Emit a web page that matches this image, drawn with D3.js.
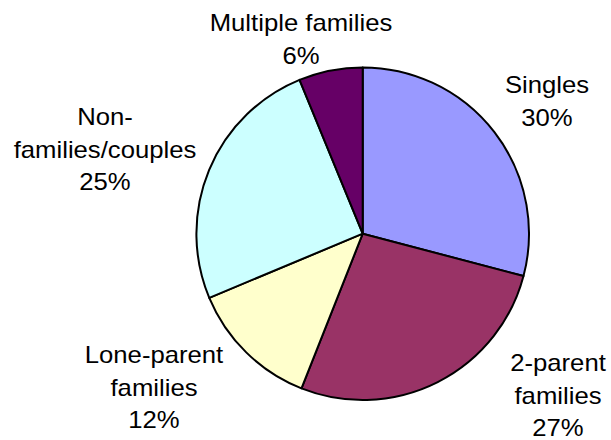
<!DOCTYPE html>
<html>
<head>
<meta charset="utf-8">
<script src="https://cdn.jsdelivr.net/npm/d3@7"></script>
<style>
  body { margin: 0; background: #fff; }
  svg { display: block; }
  .label text { font-family: "Liberation Sans", Arial, sans-serif; font-size: 24px; fill: #000; }
</style>
</head>
<body>
<div id="chart"></div>
<script>
// household types, share of total
var categories = ["Singles", "2-parent families", "Lone-parent families", "Non-families/couples", "Multiple families"];
var values = [29.1, 26.9, 12.7, 25.1, 6.2];
var pctLabels = ["30%", "27%", "12%", "25%", "6%"];
// label text broken into lines as in the original
var labelLines = [["Singles"], ["2-parent", "families"], ["Lone-parent", "families"], ["Non-", "families/couples"], ["Multiple families"]];
var colors = ["#9999ff", "#993366", "#ffffcc", "#ccffff", "#660066"];

var width = 611, height = 440,
	cx = 362.7, cy = 233.7, radius = 166.3,
	lineH = 32.7;

// where each label block sits (centre x, first baseline)
var labelAt = [[547, 93], [558, 371], [154, 363], [105, 125], [301, 31]];

var svg = d3.select("#chart").append("svg")
	.attr("width", width)
	.attr("height", height);

var pie = d3.pie().sort(null).value(function(d) { return d; });
var arc = d3.arc().innerRadius(0).outerRadius(radius);

var g = svg.append("g")
	.attr("transform", "translate(" + cx + "," + cy + ")");

g.selectAll("path")
	.data(pie(values))
  .enter().append("path")
	.attr("d", arc)
	.attr("fill", function(d, i) { return colors[i]; })
	.attr("stroke", "#000")
	.attr("stroke-width", 2)
	.attr("stroke-linejoin", "round");

// text in the original is a bit wider than Liberation Sans, so stretch it slightly
var labels = svg.selectAll(".label")
	.data(categories)
  .enter().append("g")
	.attr("class", "label")
	.attr("transform", function(d, i) { return "translate(" + labelAt[i][0] + "," + labelAt[i][1] + ") scale(1.07,1)"; });

labels.append("text")
	.attr("text-anchor", "middle")
	.each(function(d, i) {
		var t = d3.select(this);
		labelLines[i].concat([pctLabels[i]]).forEach(function(s, j) {
			t.append("tspan").attr("x", 0).attr("y", j * lineH).text(s);
		});
	});
</script>
</body>
</html>
